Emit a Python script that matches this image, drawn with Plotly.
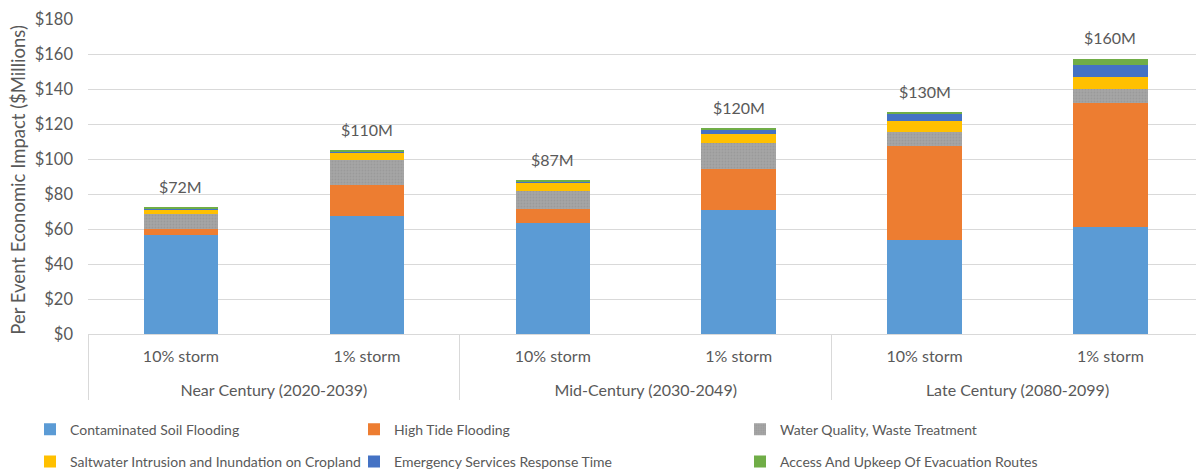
import plotly.graph_objects as go

groups = ["Near Century (2020-2039)", "Near Century (2020-2039)",
          "Mid-Century (2030-2049)", "Mid-Century (2030-2049)",
          "Late Century (2080-2099)", "Late Century (2080-2099)"]
storms = ["10% storm", "1% storm", "10% storm", "1% storm", "10% storm", "1% storm"]

contaminated_soil = [56.5, 67.5, 63.5, 71.0, 53.5, 61.0]
high_tide = [3.5, 17.5, 8.0, 23.3, 54.0, 71.0]
water_quality = [8.5, 14.5, 10.5, 14.7, 8.0, 8.0]
saltwater = [2.5, 4.0, 4.3, 5.3, 6.0, 7.0]
emergency = [0.5, 1.0, 1.0, 2.8, 4.4, 6.7]
evacuation = [0.6, 0.6, 0.4, 0.6, 0.4, 3.6]
total_labels = ["$72M", "$110M", "$87M", "$120M", "$130M", "$160M"]
y_title = "Per Event Economic Impact ($Millions)"

# (name, values, colour, pattern, legend column)
series = [
    ("Contaminated Soil Flooding", contaminated_soil, "#5B9BD5", None, "legend"),
    ("High Tide Flooding", high_tide, "#ED7D31", None, "legend2"),
    ("Water Quality, Waste Treatment", water_quality, "#A5A5A5", ".", "legend3"),
    ("Saltwater Intrusion and Inundation on Cropland", saltwater, "#FFC000", None, "legend"),
    ("Emergency Services Response Time", emergency, "#4472C4", None, "legend2"),
    ("Access And Upkeep Of Evacuation Routes", evacuation, "#70AD47", None, "legend3"),
]

FONT = "Lato, 'Open Sans', sans-serif"
TXT = "#595959"

# blank first line on group labels spaces the two label rows like the original
group_labels = ["<br>" + g for g in groups]

fig = go.Figure()
for i, (name, vals, color, pat, leg) in enumerate(series):
    marker = dict(color=color, line=dict(width=0))
    if pat:
        marker["pattern"] = dict(shape=pat, fgcolor="#8F8F8F", bgcolor=color, size=3, solidity=0.3)
    fig.add_trace(go.Bar(name=name, x=[group_labels, storms], y=vals, marker=marker,
                         legend=leg, legendgroup=f"g{i}"))

totals = [sum(v) for v in zip(contaminated_soil, high_tide, water_quality, saltwater, emergency, evacuation)]
for i, (t, lab) in enumerate(zip(totals, total_labels)):
    fig.add_annotation(x=i, y=t, xref="x", yref="y", text=lab, showarrow=False,
                       yshift=21, font=dict(size=16, color=TXT, family=FONT))

# y-axis title
fig.add_annotation(x=(18 - 88) / 1108.0, y=0.49, xref="paper", yref="paper", text=y_title,
                   textangle=-90, showarrow=False, xanchor="center", yanchor="middle",
                   font=dict(size=18.5, color=TXT, family=FONT))

def lx(px):
    return px / 1196.0

leg_common = dict(orientation="v", xanchor="left", xref="container", yref="container",
                  y=1 - 413.6 / 472, yanchor="top",
                  font=dict(size=14, color=TXT, family=FONT), itemwidth=30,
                  tracegroupgap=11, bgcolor="rgba(0,0,0,0)", borderwidth=0)

fig.update_layout(
    width=1196, height=472,
    margin=dict(l=88, r=0, t=19, b=138, autoexpand=False),
    barmode="stack", bargap=0.6,
    plot_bgcolor="white", paper_bgcolor="white",
    font=dict(family=FONT, size=16, color=TXT),
    legend=dict(x=lx(30), **leg_common),
    legend2=dict(x=lx(354), **leg_common),
    legend3=dict(x=lx(740), **leg_common),
    showlegend=True,
)
fig.update_yaxes(range=[0, 180], dtick=20, tickprefix="$", showgrid=True, gridcolor="#D9D9D9",
                 gridwidth=1, zeroline=False, showline=False, ticklabelstandoff=14,
                 tickfont=dict(size=16.5, color=TXT))
fig.update_xaxes(type="multicategory", range=[-0.5, 5.46], showline=True, linecolor="#D9D9D9", linewidth=1,
                 showdividers=True, dividercolor="#D9D9D9", dividerwidth=1,
                 ticklabelstandoff=8, tickangle=0,
                 tickfont=dict(size=16, color=TXT), showgrid=False)

fig.write_html("out.html")
